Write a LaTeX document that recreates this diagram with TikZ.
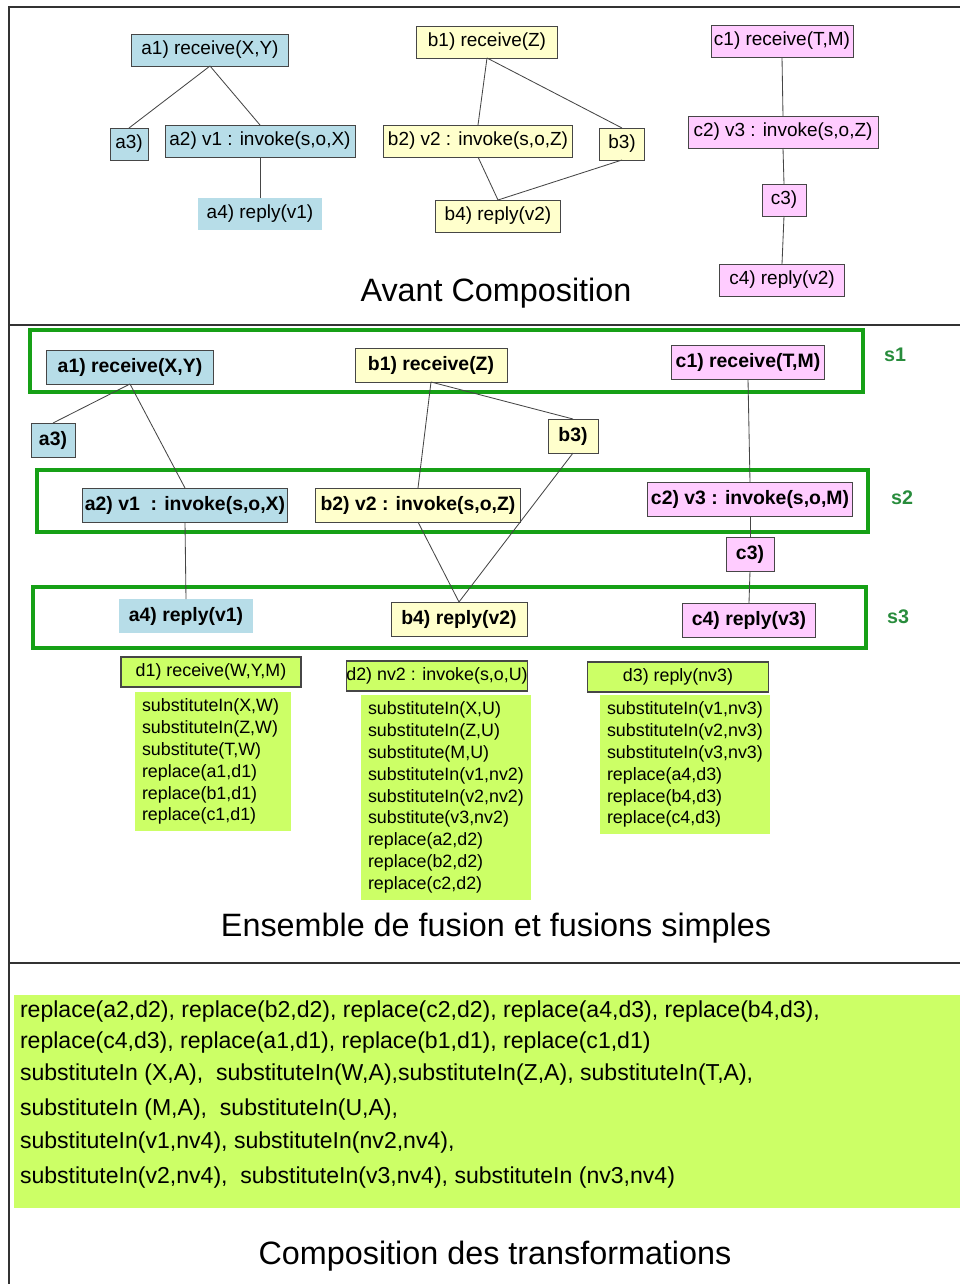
\documentclass[tikz,border=0pt]{standalone}
\usepackage{fontspec}
\setmainfont{Liberation Sans}
\usetikzlibrary{positioning}
\definecolor{aBlue}{RGB}{183,221,232}
\definecolor{bYellow}{RGB}{255,255,204}
\definecolor{cPink}{RGB}{255,204,255}
\definecolor{dGreen}{RGB}{204,255,102}
\definecolor{setGreen}{RGB}{22,160,22}
\definecolor{labGreen}{RGB}{40,140,60}
\definecolor{boxGray}{RGB}{70,70,70}

\begin{document}
\begin{tikzpicture}[x=0.025cm, y=-0.025cm,
    every node/.style={inner sep=0pt, outer sep=0pt},
    avnode/.style={draw=boxGray, line width=0.6pt, minimum height=0.8cm, font=\fontsize{13.5}{15}\selectfont},
    fnode/.style={draw=boxGray, line width=0.6pt, minimum height=0.85cm, font=\bfseries\fontsize{13.8}{15}\selectfont},
    fhead/.style={draw=boxGray, line width=0.8pt, fill=dGreen, minimum width=4.5cm, minimum height=0.75cm, font=\fontsize{12.7}{15}\selectfont},
    flist/.style={fill=dGreen, anchor=north west, align=left, inner xsep=5pt, inner ysep=4.5pt, font=\fontsize{12.7}{15.6}\selectfont},
    setbox/.style={draw=setGreen, line width=2.6pt},
    setlabel/.style={text=labGreen, font=\bfseries\fontsize{14}{16}\selectfont},
    panel/.style={draw=black!80, line width=1.2pt},
    title/.style={font=\fontsize{23}{26}\selectfont},
    link/.style={draw=boxGray, line width=0.6pt},
    compo/.style={anchor=west, font=\fontsize{16.4}{19}\selectfont}]

  \useasboundingbox (0,0) rectangle (960,1284);

  \draw[panel] (960,7) -- (9,7) -- (9,1284);
  \draw[panel] (9,325) -- (960,325);
  \draw[panel] (9,963) -- (960,963);

  \node[avnode, fill=aBlue, minimum width=3.925cm] (a1) at (210,50) {a1) receive(X,Y)};
  \node[avnode, fill=aBlue, minimum width=0.95cm] (a3) at (129,144) {a3)};
  \node[avnode, fill=aBlue, minimum width=4.75cm] (a2) at (260,141) {a2) v1 : invoke(s,o,X)};
  \node[avnode, fill=aBlue, draw=none, minimum width=3.1cm] (a4) at (260,214) {a4) reply(v1)};

  \node[avnode, fill=bYellow, minimum width=3.525cm] (b1) at (487,42) {b1) receive(Z)};
  \node[avnode, fill=bYellow, minimum width=4.725cm] (b2) at (478,141) {b2) v2 : invoke(s,o,Z)};
  \node[avnode, fill=bYellow, minimum width=1.125cm] (b3) at (622,144) {b3)};
  \node[avnode, fill=bYellow, minimum width=3.125cm] (b4) at (498,216) {b4) reply(v2)};

  \node[avnode, fill=cPink, minimum width=3.55cm] (c1) at (782,41) {c1) receive(T,M)};
  \node[avnode, fill=cPink, minimum width=4.75cm] (c2) at (783,132) {c2) v3 : invoke(s,o,Z)};
  \node[avnode, fill=cPink, minimum width=1.1cm] (c3) at (784,200) {c3)};
  \node[avnode, fill=cPink, minimum width=3.125cm] (c4) at (782,280) {c4) reply(v2)};

  \draw[link] (a1.south) edge [] (a3.north);
  \draw[link] (a1.south) edge [] (a2.north);
  \draw[link] (a2.south) edge [] (a4.north);
  \draw[link] (b1.south) edge [] (b2.north);
  \draw[link] (b1.south) edge [] (b3.north);
  \draw[link] (b2.south) edge [] (b4.north);
  \draw[link] (b3.south) edge [] (b4.north);
  \draw[link] (c1.south) edge [] (c2.north);
  \draw[link] (c2.south) edge [] (c3.north);
  \draw[link] (c3.south) edge [] (c4.north);

  \node[title] (avant) at (496,293) {Avant Composition};

  \draw[setbox] (30,330) rectangle (863,392);
  \draw[setbox] (37,470) rectangle (868,532);
  \draw[setbox] (33,587) rectangle (866,648);
  \node[setlabel] (s1) at (895,355) {s1};
  \node[setlabel] (s2) at (902,498) {s2};
  \node[setlabel] (s3) at (898,617) {s3};

  \node[fnode, fill=aBlue, minimum width=4.175cm] (fa1) at (130,367) {a1) receive(X,Y)};
  \node[fnode, fill=aBlue, minimum width=1.1cm] (fa3) at (53,440) {a3)};
  \node[fnode, fill=aBlue, minimum width=5.125cm] (fa2) at (185,505) {a2) v1 \ : invoke(s,o,X)};
  \node[fnode, fill=aBlue, draw=none, minimum width=3.35cm] (fa4) at (186,616) {a4) reply(v1)};

  \node[fnode, fill=bYellow, minimum width=3.8cm] (fb1) at (431,365) {b1) receive(Z)};
  \node[fnode, fill=bYellow, minimum width=5.125cm] (fb2) at (418,505) {b2) v2 : invoke(s,o,Z)};
  \node[fnode, fill=bYellow, minimum width=1.25cm] (fb3) at (573,436) {b3)};
  \node[fnode, fill=bYellow, minimum width=3.4cm] (fb4) at (459,619) {b4) reply(v2)};

  \node[fnode, fill=cPink, minimum width=3.825cm] (fc1) at (748,362) {c1) receive(T,M)};
  \node[fnode, fill=cPink, minimum width=5.125cm] (fc2) at (750,499) {c2) v3 : invoke(s,o,M)};
  \node[fnode, fill=cPink, minimum width=1.2cm] (fc3) at (750,554) {c3)};
  \node[fnode, fill=cPink, minimum width=3.325cm] (fc4) at (749,620) {c4) reply(v3)};

  \draw[link] (fa1.south) edge [] (fa3.north);
  \draw[link] (fa1.south) edge [] (fa2.north);
  \draw[link] (fa2.south) edge [] (fa4.north);
  \draw[link] (fb1.south) edge [] (fb2.north);
  \draw[link] (fb1.south) edge [] (fb3.north);
  \draw[link] (fb2.south) edge [] (fb4.north);
  \draw[link] (fb3.south) edge [] (fb4.north);
  \draw[link] (fc1.south) edge [] (fc2.north);
  \draw[link] (fc2.south) edge [] (fc3.north);
  \draw[link] (fc3.south) edge [] (fc4.north);

  \node[fhead] (d1) at (211,672) {d1) receive(W,Y,M)};
  \node[fhead, minimum width=4.525cm] (d2) at (437,676) {d2) nv2 : invoke(s,o,U)};
  \node[fhead, minimum width=4.525cm] (d3) at (678,677) {d3) reply(nv3)};

  \node[flist, text width=3.55cm] (d1list) at (135,692) {substituteIn(X,W)\\substituteIn(Z,W)\\substitute(T,W)\\replace(a1,d1)\\replace(b1,d1)\\replace(c1,d1)};
  \node[flist, text width=3.9cm] (d2list) at (361,695) {substituteIn(X,U)\\substituteIn(Z,U)\\substitute(M,U)\\substituteIn(v1,nv2)\\substituteIn(v2,nv2)\\substitute(v3,nv2)\\replace(a2,d2)\\replace(b2,d2)\\replace(c2,d2)};
  \node[flist, text width=3.9cm] (d3list) at (600,695) {substituteIn(v1,nv3)\\substituteIn(v2,nv3)\\substituteIn(v3,nv3)\\replace(a4,d3)\\replace(b4,d3)\\replace(c4,d3)};

  \node[title] (ensemble) at (496,928) {Ensemble de fusion et fusions simples};

  \fill[dGreen] (14,995) rectangle (960,1208);
  \node[compo] (r1) at (20,1012) {replace(a2,d2), replace(b2,d2), replace(c2,d2), replace(a4,d3), replace(b4,d3),};
  \node[compo] (r2) at (20,1043) {replace(c4,d3), replace(a1,d1), replace(b1,d1), replace(c1,d1)};
  \node[compo] (r3) at (20,1075) {substituteIn (X,A), \ substituteIn(W,A),substituteIn(Z,A), substituteIn(T,A),};
  \node[compo] (r4) at (20,1110) {substituteIn (M,A), \ substituteIn(U,A),};
  \node[compo] (r5) at (20,1143) {substituteIn(v1,nv4), substituteIn(nv2,nv4),};
  \node[compo] (r6) at (20,1178) {substituteIn(v2,nv4), \ substituteIn(v3,nv4), substituteIn (nv3,nv4)};

  \node[title] (compos) at (495,1256) {Composition des transformations};
\end{tikzpicture}
\end{document}
